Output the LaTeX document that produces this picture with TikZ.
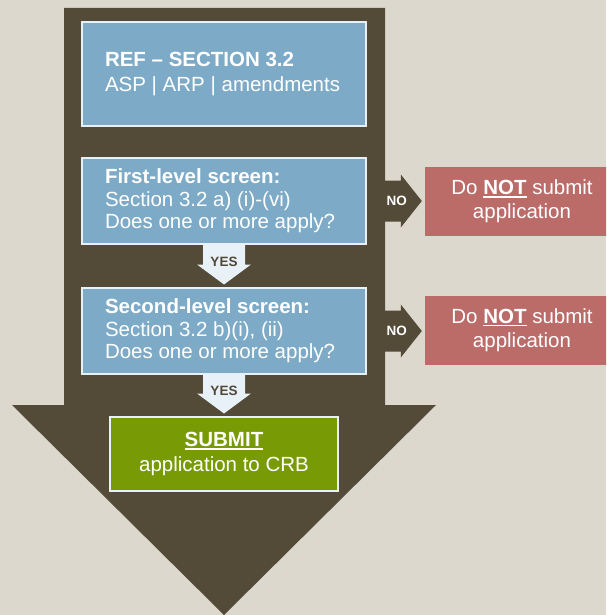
\documentclass[tikz,border=0pt]{standalone}
\usepackage{fontspec}
\setmainfont{Liberation Sans}
\usetikzlibrary{backgrounds,calc}

\definecolor{paper}{HTML}{DCD8CE}
\definecolor{trunk}{HTML}{534A38}
\definecolor{boxblue}{HTML}{7DABC7}
\definecolor{boxedge}{HTML}{E8F1F7}
\definecolor{stopred}{HTML}{BB6B68}
\definecolor{gogreen}{HTML}{789A04}
\definecolor{yestext}{HTML}{524838}

\newcommand{\boldul}[1]{\setbox0\hbox{\bfseries #1}\rlap{\rule[-3pt]{\wd0}{1.8pt}}\box0\relax}

\begin{document}
\begin{tikzpicture}[x=1pt,y=-1pt,
    screen/.style={fill=boxblue,draw=boxedge,line width=2pt,text=white,
      align=flush left,text width=238pt,inner xsep=23pt,minimum width=284pt,
      minimum height=86pt,font=\fontsize{20.5}{22.5}\selectfont},
    stopbox/.style={fill=stopred,text=white,align=center,minimum width=195pt,
      minimum height=69pt,font=\fontsize{20.5}{24}\selectfont},
    submitbox/.style={fill=gogreen,draw=boxedge,line width=2pt,text=white,
      align=center,minimum width=228pt,minimum height=74pt,
      font=\fontsize{20.5}{25}\selectfont},
    yeslabel/.style={text=yestext,inner sep=0pt,font=\bfseries\fontsize{13.5}{14}\selectfont},
    nolabel/.style={text=white,inner sep=0pt,font=\bfseries\fontsize{13.5}{14}\selectfont}]

     \useasboundingbox (0,0) rectangle (606,615);
     \clip (0,0) rectangle (606,615);

     \path (224,74) node[screen,minimum height=104pt,font=\fontsize{20.5}{25}\selectfont] (ref)
          {\textbf{REF -- SECTION 3.2}\\\mbox{ASP | ARP | amendments}};
     \path (224,201) node[screen] (first)
          {\textbf{First-level screen:}\\Section 3.2 a) (i)-(vi)\\Does one or more apply?};
     \path (224,331) node[screen] (second)
          {\textbf{Second-level screen:}\\Section 3.2 b)(i), (ii)\\Does one or more apply?};
     \path (224,454) node[submitbox] (submit) {\boldul{SUBMIT}\\application to CRB};

     \path (522,201.5) node[stopbox] (stopA) {Do \boldul{NOT} submit\\application};
     \path (522,330) node[stopbox] (stopB) {Do \boldul{NOT} submit\\application};

     \begin{scope}[on background layer]
       \fill[paper] (0,0) rectangle (606,615);
       \fill[trunk] (64,8) -- (385,8) -- (385,405) -- (436,405) -- (224,615)
                    -- (12,405) -- (64,405) -- cycle;

       % side exits
       \foreach \src/\stop in {first/stopA,second/stopB} {
         \coordinate (tip) at ($(\src.east -| \stop.west)+(-2.5,0)$);
         \fill[trunk] ($(\src.east)+(0,-20.5)$) -- ($(tip)+(-21,-20.5)$)
                      -- ($(tip)+(-21,-26.5)$) -- (tip) -- ($(tip)+(-21,26.5)$)
                      -- ($(tip)+(-21,20.5)$) -- ($(\src.east)+(0,20.5)$) -- cycle;
         \path ($(tip)+(-25,0)$) node[nolabel] {NO};
       }

       % downward steps
       \foreach \src/\dst in {first/second,second/submit} {
         \coordinate (tip) at ($(\dst.north)+(0,-2.5)$);
         \fill[boxedge] ($(\src.south)+(-21,0)$) -- ($(tip)+(-21,-20)$)
                        -- ($(tip)+(-27,-20)$) -- (tip) -- ($(tip)+(27,-20)$)
                        -- ($(tip)+(21,-20)$) -- ($(\src.south)+(21,0)$) -- cycle;
         \path ($(tip)+(0,-23)$) node[yeslabel] {YES};
       }
     \end{scope}

\end{tikzpicture}
\end{document}
